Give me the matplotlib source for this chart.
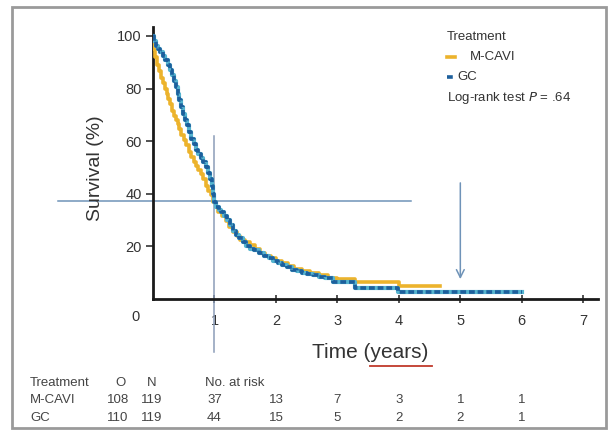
import matplotlib
matplotlib.use("Agg")
import matplotlib.pyplot as plt
from matplotlib.patches import Rectangle

plt.rcParams['font.family'] = ['Liberation Sans', 'DejaVu Sans']

# Kaplan-Meier step data (time in years, survival in %)
gc_time = [0, 0.02, 0.05, 0.08, 0.12, 0.16, 0.20, 0.24, 0.28, 0.31, 0.34, 0.37,
           0.40, 0.43, 0.46, 0.49, 0.52, 0.55, 0.58, 0.62, 0.66, 0.70, 0.74, 0.78,
           0.82, 0.86, 0.90, 0.93, 0.96, 0.98, 1.00, 1.03, 1.07, 1.10, 1.15, 1.20,
           1.25, 1.30, 1.35, 1.40, 1.46, 1.52, 1.58, 1.65, 1.72, 1.80, 1.88, 1.95,
           2.03, 2.10, 2.18, 2.26, 2.34, 2.42, 2.50, 2.60, 2.70, 2.80, 2.93, 3.28,
           3.98, 6.00]
gc_surv = [100, 98, 96, 95, 94, 92.5, 91, 89, 87, 85, 83, 80.5,
           78, 75.5, 73, 70.5, 68, 66, 63.5, 61, 59, 56.5, 55, 53.5,
           52, 50, 48, 45.5, 43, 40, 37, 35, 34, 33, 31.5, 30,
           28, 26, 24.5, 23, 21.5, 20, 19, 18.5, 17.5, 16.5, 15.5, 14.5,
           13.5, 13, 12, 11, 10.5, 10, 9.5, 9, 8.5, 8, 6.5, 4.2,
           2.7, 2.7]

mcavi_time = [0, 0.02, 0.04, 0.07, 0.10, 0.13, 0.16, 0.19, 0.22, 0.25, 0.28, 0.31,
              0.34, 0.37, 0.40, 0.43, 0.46, 0.50, 0.54, 0.58, 0.62, 0.66, 0.70, 0.74,
              0.78, 0.82, 0.86, 0.90, 0.94, 0.98, 1.02, 1.06, 1.12, 1.18, 1.24, 1.30,
              1.36, 1.42, 1.50, 1.58, 1.66, 1.74, 1.82, 1.92, 2.00, 2.10, 2.20, 2.30,
              2.42, 2.55, 2.70, 2.85, 3.00, 3.28, 4.00, 4.67]
mcavi_surv = [100, 95, 92, 89, 86.5, 84, 82, 80, 78, 76, 74, 71.5,
              69.5, 68, 66.5, 64.5, 62.5, 60.5, 58.5, 56, 54, 52, 50.5, 49,
              47.5, 45.5, 43, 41, 39.5, 37, 35, 33, 31.5, 29.5, 27.5, 25.5,
              24, 22.5, 21.5, 20.5, 19, 17.5, 16.5, 15.5, 14.5, 13.5, 12.5, 11.5,
              10.5, 10, 9, 8, 7.5, 6.5, 5.0, 5.0]

x_ticks = [1, 2, 3, 4, 5, 6, 7]
y_ticks = [20, 40, 60, 80, 100]

risk_groups = ["M-CAVI", "GC"]
risk_events = ["108", "110"]
risk_n = ["119", "119"]
risk_times = [1, 2, 3, 4, 5, 6]
risk_mcavi = [37, 13, 7, 3, 1, 1]
risk_gc = [44, 15, 5, 2, 2, 1]

median_surv = 37.3
arrow_time = 5

W, H = 610, 434
fig = plt.figure(figsize=(W / 100, H / 100), dpi=100)


def fx(px):
    return px / W


def fy(py):
    return 1 - py / H


ax = fig.add_axes([fx(153), fy(299), fx(598) - fx(153), fy(27) - fy(299)])
ax.set_xlim(0, 7.24)
ax.set_ylim(0, 103.4)

orange = '#ecb32c'
blue_dark = '#1d5f9c'
blue_light = '#55b4cf'

ax.step(mcavi_time, mcavi_surv, where='post', color=orange, lw=2.6, zorder=3)
ax.step(gc_time, gc_surv, where='post', color=blue_light, lw=3.0, zorder=4)
ax.step(gc_time, gc_surv, where='post', color=blue_dark, lw=2.6, zorder=5,
        dashes=(1.6, 0.8))

for s in ['top', 'right']:
    ax.spines[s].set_visible(False)
for s in ['left', 'bottom']:
    ax.spines[s].set_linewidth(2.0)
    ax.spines[s].set_color('#1a1a1a')

ax.set_xticks(x_ticks)
ax.set_yticks(y_ticks)
ax.tick_params(axis='y', direction='out', length=5, width=1.2, labelsize=10.5,
               colors='#333333', pad=3)
ax.tick_params(axis='x', direction='inout', length=6, width=1.2, labelsize=10.5,
               colors='#333333', pad=8)

# reference lines
ax.plot([-1.545, 4.2], [median_surv, median_surv], color='#6f93b8', lw=1.1,
        clip_on=False, zorder=2)
ax.plot([1, 1], [62, -20.2], color='#8b9cb8', lw=1.1, clip_on=False, zorder=2)
ax.annotate('', xy=(arrow_time, 6.5), xytext=(arrow_time, 45.2),
            arrowprops=dict(arrowstyle='->', color='#6f93b8', lw=1.1,
                            mutation_scale=14))

# origin label and axis titles
fig.text(fx(135), fy(317), '0', fontsize=10.5, color='#333333',
         ha='center', va='center')
fig.text(fx(95), fy(168), 'Survival (%)', fontsize=14, color='#333333',
         rotation=90, ha='center', va='center')
fig.text(fx(312), fy(352), 'Time (years)', fontsize=15, color='#333333',
         ha='left', va='center')
fig.add_artist(plt.Line2D([fx(370), fx(432)], [fy(366), fy(366)],
                          color='#c0392b', lw=1.3))

# legend
fig.text(fx(447), fy(37), 'Treatment', fontsize=9.5, color='#333333',
         ha='left', va='center')
fig.add_artist(plt.Line2D([fx(447), fx(455)], [fy(57), fy(57)],
                          color=orange, lw=2.6))
fig.text(fx(470), fy(57), 'M-CAVI', fontsize=9.5, color='#333333',
         ha='left', va='center')
fig.add_artist(plt.Line2D([fx(447), fx(455)], [fy(77), fy(77)],
                          color=blue_dark, lw=2.6, dashes=(1.6, 0.8)))
fig.text(fx(457), fy(77), 'GC', fontsize=9.5, color='#333333',
         ha='left', va='center')
fig.text(fx(447), fy(98), 'Log-rank test $\\mathit{P}$ = .64', fontsize=9.5,
         color='#333333', ha='left', va='center')

# number-at-risk table
tfs = 9.5
tc = '#444444'
fig.text(fx(30), fy(383), 'Treatment', fontsize=tfs, color=tc, va='center')
fig.text(fx(120), fy(383), 'O', fontsize=tfs, color=tc, va='center', ha='center')
fig.text(fx(152), fy(383), 'N', fontsize=tfs, color=tc, va='center', ha='center')
fig.text(fx(205), fy(383), 'No. at risk', fontsize=tfs, color=tc, va='center')
row_y = [400, 418]
row_vals = [risk_mcavi, risk_gc]
for i, g in enumerate(risk_groups):
    yy = fy(row_y[i])
    fig.text(fx(30), yy, g, fontsize=tfs, color=tc, va='center')
    fig.text(fx(118), yy, risk_events[i], fontsize=tfs, color=tc, va='center', ha='center')
    fig.text(fx(152), yy, risk_n[i], fontsize=tfs, color=tc, va='center', ha='center')
    for t, v in zip(risk_times, row_vals[i]):
        xd = ax.transData.transform((t, 0))[0]
        xf = fig.transFigure.inverted().transform((xd, 0))[0]
        fig.text(xf, yy, str(v), fontsize=tfs, color=tc, va='center', ha='center')

# outer frame
fig.add_artist(Rectangle((fx(12), fy(428)), fx(606) - fx(12), fy(7) - fy(428),
                         fill=False, edgecolor='#9a9a9a', lw=2.0,
                         transform=fig.transFigure))

fig.savefig('out.png', dpi=100, facecolor='white')
